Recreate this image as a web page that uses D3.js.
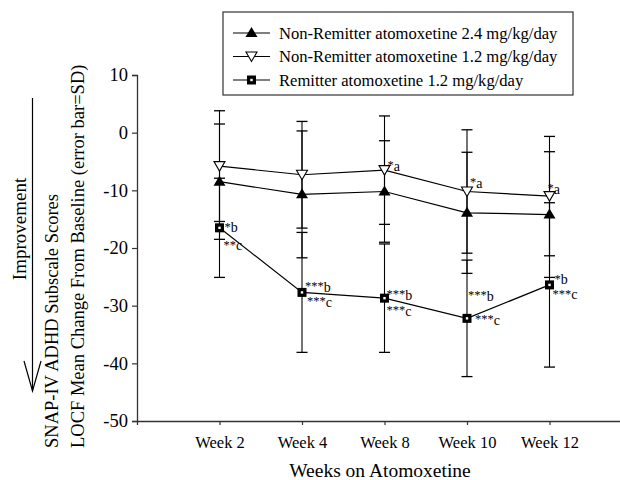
<!DOCTYPE html>
<html>
<head>
<meta charset="utf-8">
<script src="https://cdn.jsdelivr.net/npm/d3@7"></script>
<style>
  body { margin: 0; background: #fff; }
  text { font-family: "Liberation Serif", "DejaVu Serif", serif; fill: #000; }
</style>
</head>
<body>
<svg id="chart"></svg>
<script>
// Data
const weeks = ["Week 2", "Week 4", "Week 8", "Week 10", "Week 12"];
const yTicks = [10, 0, -10, -20, -30, -40, -50];

const nonRem24Mean = [-8.5, -10.7, -10.2, -13.9, -14.2];
const nonRem24Sd = [10.0, 11.0, 8.8, 10.5, 10.9];

const nonRem12Mean = [-5.8, -7.3, -6.5, -10.2, -11.0];
const nonRem12Sd = [9.6, 9.25, 9.4, 10.7, 10.35];

const remMean = [-16.5, -27.7, -28.7, -32.2, -26.4];
const remSd = [8.6, 10.4, 9.4, 10.1, 14.25];

const nonRem12Labels = ["", "", "*a", "*a", "*a"];
const remLabelsB = ["*b", "***b", "***b", "***b", "*b"];
const remLabelsC = ["**c", "***c", "***c", "***c", "***c"];

const legendNames = [
    "Non-Remitter atomoxetine 2.4 mg/kg/day",
    "Non-Remitter atomoxetine 1.2 mg/kg/day",
    "Remitter atomoxetine 1.2 mg/kg/day"
];

// Dimensions
let width = 620;
let height = 480;

let svg = d3.select("#chart")
    .attr("width", width)
    .attr("height", height);

// Scales
let xScale = d3.scaleLinear()
    .domain([0, 6])
    .range([137, 632]);

let yScale = d3.scaleLinear()
    .domain([-50, 10])
    .range([421, 75]);

// Axes
let xAxis = svg.append("g")
    .attr("transform", "translate(0, 421)")
    .call(d3.axisBottom(xScale)
        .tickValues([1, 2, 3, 4, 5])
        .tickFormat(i => weeks[i - 1])
        .tickSize(4)
        .tickPadding(11));

let yAxis = svg.append("g")
    .attr("transform", "translate(137, 0)")
    .call(d3.axisLeft(yScale)
        .tickValues(yTicks)
        .tickFormat(d => String(d))
        .tickSize(5)
        .tickPadding(4));

svg.selectAll(".domain").attr("stroke", "#333").attr("stroke-width", 1.3);
svg.selectAll(".tick line").attr("stroke", "#333").attr("stroke-width", 1.2);
svg.selectAll(".tick text")
    .style("font-family", "'Liberation Serif', serif")
    .attr("fill", "#000");
yAxis.selectAll(".tick text").style("font-size", "18.5px");
xAxis.selectAll(".tick text").style("font-size", "16.5px");

// Axis titles
svg.append("text")
    .attr("x", 380)
    .attr("y", 477)
    .attr("text-anchor", "middle")
    .style("font-size", "19.5px")
    .text("Weeks on Atomoxetine");

svg.append("text")
    .attr("transform", "translate(58, 448) rotate(-90)")
    .style("font-size", "18.5px")
    .text("SNAP-IV ADHD Subscale Scores");

svg.append("text")
    .attr("transform", "translate(83.5, 448) rotate(-90)")
    .style("font-size", "18.5px")
    .text("LOCF Mean Change From Baseline (error bar=SD)");

svg.append("text")
    .attr("transform", "translate(26, 229) rotate(-90)")
    .attr("text-anchor", "middle")
    .style("font-size", "19px")
    .text("Improvement");

// Improvement arrow
svg.append("line")
    .attr("x1", 32.5).attr("y1", 98)
    .attr("x2", 32.5).attr("y2", 391)
    .attr("stroke", "#000").attr("stroke-width", 1.2);
svg.append("path")
    .attr("d", "M24,361 L32.5,391 L41,361")
    .attr("fill", "none").attr("stroke", "#000").attr("stroke-width", 1.2);

// Series
let series = [
    { mean: nonRem24Mean, sd: nonRem24Sd, symbol: "up" },
    { mean: nonRem12Mean, sd: nonRem12Sd, symbol: "down" },
    { mean: remMean, sd: remSd, symbol: "square" }
];

let line = d3.line()
    .x((d, i) => xScale(i + 1))
    .y(d => yScale(d));

// Error bars
series.forEach(s => {
    let g = svg.append("g");
    s.mean.forEach((m, i) => {
        let x = xScale(i + 1);
        let top = yScale(m + s.sd[i]);
        let bot = yScale(m - s.sd[i]);
        g.append("line").attr("x1", x).attr("x2", x).attr("y1", top).attr("y2", bot)
            .attr("stroke", "#000").attr("stroke-width", 1.1);
        [top, bot].forEach(y => {
            g.append("line").attr("x1", x - 5.5).attr("x2", x + 5.5).attr("y1", y).attr("y2", y)
                .attr("stroke", "#000").attr("stroke-width", 1.3);
        });
    });
});

// Lines
series.forEach(s => {
    svg.append("path")
        .datum(s.mean)
        .attr("d", line)
        .attr("fill", "none")
        .attr("stroke", "#000")
        .attr("stroke-width", 1.2);
});

function drawSymbol(g, type, x, y) {
    if (type === "up") {
        g.append("path")
            .attr("d", `M${x - 6},${y + 4} L${x},${y - 6} L${x + 6},${y + 4} Z`)
            .attr("fill", "#000");
    } else if (type === "down") {
        g.append("path")
            .attr("d", `M${x - 5.5},${y - 4.5} L${x + 5.5},${y - 4.5} L${x},${y + 5} Z`)
            .attr("fill", "#fff").attr("stroke", "#000").attr("stroke-width", 1.1);
    } else {
        g.append("rect")
            .attr("x", x - 4.5).attr("y", y - 4.5).attr("width", 9).attr("height", 9)
            .attr("fill", "#000");
        g.append("rect")
            .attr("x", x - 1.2).attr("y", y - 1.2).attr("width", 2.4).attr("height", 2.4)
            .attr("fill", "#fff");
    }
}

// Markers
series.forEach(s => {
    let g = svg.append("g");
    s.mean.forEach((m, i) => drawSymbol(g, s.symbol, xScale(i + 1), yScale(m)));
});

// Significance labels
let annot = svg.append("g")
    .style("font-size", "12.5px")
    .attr("opacity", 0.99);
function addLabel(txt, x, y) {
    if (!txt) return;
    let t = annot.append("text").attr("x", x).attr("y", y);
    t.append("tspan").text(txt.replace(/[a-z]/g, ""));
    t.append("tspan").attr("dy", 1.5).style("font-size", "14px").text(txt.replace(/\*/g, ""));
}

// label offsets (layout only)
let aOff = [[0, 0], [0, 0], [3, -1], [3, -5], [-2, -4]];
let bOff = [[5, 3], [3, -2], [2, 0], [1, -19], [5, -2]];
let cOff = [[4, 21], [5, 13], [2, 16], [8, 5], [3, 13]];

nonRem12Mean.forEach((m, i) => {
    addLabel(nonRem12Labels[i], xScale(i + 1) + aOff[i][0], yScale(m) + aOff[i][1]);
});
remMean.forEach((m, i) => {
    addLabel(remLabelsB[i], xScale(i + 1) + bOff[i][0], yScale(m) + bOff[i][1]);
    addLabel(remLabelsC[i], xScale(i + 1) + cOff[i][0], yScale(m) + cOff[i][1]);
});

// Legend
let legend = svg.append("g");
legend.append("rect")
    .attr("x", 223).attr("y", 12).attr("width", 350).attr("height", 83)
    .attr("fill", "#fff").attr("stroke", "#333").attr("stroke-width", 1.2);

legendNames.forEach((name, i) => {
    let y = 33 + i * 23.5;
    legend.append("line")
        .attr("x1", 233).attr("x2", 270).attr("y1", y).attr("y2", y)
        .attr("stroke", "#000").attr("stroke-width", 1.2);
    drawSymbol(legend, series[i].symbol, 251.5, y);
    legend.append("text")
        .attr("x", 279).attr("y", y + 5.5)
        .style("font-size", "16.6px")
        .text(name);
});
</script>
</body>
</html>
